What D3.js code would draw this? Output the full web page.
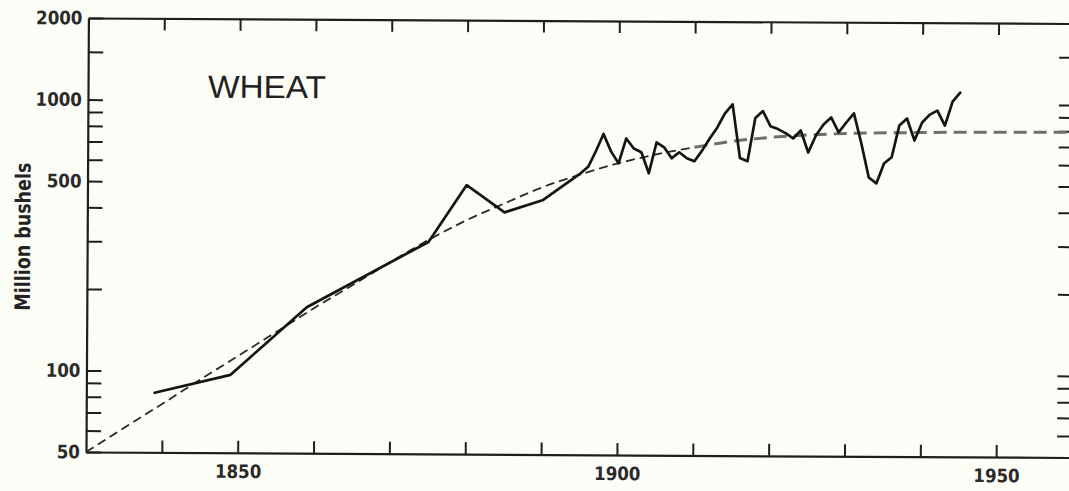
<!DOCTYPE html>
<html>
<head>
<meta charset="utf-8">
<script src="https://cdn.jsdelivr.net/npm/d3@7"></script>
<style>
  html, body { margin: 0; padding: 0; background: #fdfdf8; }
  svg { display: block; }
</style>
</head>
<body>
<div id="chart"></div>
<script>
// wheat production, million bushels
const wheatYears = [1839, 1849, 1859, 1875, 1880, 1885, 1890, 1895, 1896, 1897, 1898, 1899,
    1900, 1901, 1902, 1903, 1904, 1905, 1906, 1907, 1908, 1909,
    1910, 1911, 1912, 1913, 1914, 1915, 1916, 1917, 1918, 1919,
    1920, 1921, 1922, 1923, 1924, 1925, 1926, 1927, 1928, 1929,
    1930, 1931, 1932, 1933, 1934, 1935, 1936, 1937, 1938, 1939,
    1940, 1941, 1942, 1943, 1944, 1945];
const wheatValues = [83, 97, 173, 303, 492, 391, 434, 547, 578, 660, 765, 660,
    596, 737, 677, 656, 549, 714, 685, 624, 657, 625,
    609, 667, 740, 813, 916, 990, 627, 611, 882, 936,
    824, 804, 777, 743, 795, 660, 763, 838, 890, 784,
    853, 922, 714, 535, 509, 603, 636, 834, 885, 734,
    856, 916, 948, 835, 1024, 1106];

// dashed trend curve
const trendYears = [1830, 1835, 1840, 1845, 1850, 1855, 1860, 1865, 1870, 1875, 1880, 1885,
    1890, 1895, 1900, 1905, 1910, 1915, 1920, 1925, 1930, 1940, 1960];
const trendValues = [50, 61.5, 75.5, 93, 114, 140, 172, 209, 255, 308, 365, 422,
    485, 542, 597, 645, 686, 723, 749, 766, 777, 786, 794];

const xTicks = [1840, 1850, 1860, 1870, 1880, 1890, 1900, 1910, 1920, 1930, 1940, 1950];
const xLabels = [1850, 1900, 1950];
const yTicks = [50, 60, 70, 80, 90, 100, 200, 300, 400, 500, 600, 700, 800, 900, 1000, 1500, 2000];
const yLabels = [50, 100, 500, 1000, 2000];

const width = 1069;
const height = 491;
const plotLeft = 86, plotRight = 1072, plotTop = 18, plotBottom = 452;

const svg = d3.select('#chart')
    .append('svg')
    .attr('width', width)
    .attr('height', height);

// the scanned original is tilted a little
const g = svg.append('g')
    .attr('transform', `rotate(0.32, ${plotLeft}, ${plotBottom})`);

const x = d3.scaleLinear().domain([1830, 1960]).range([plotLeft, plotRight]);
const y = d3.scaleLog().domain([50, 2000]).range([plotBottom, plotTop]);

const numFont = 'DejaVu Sans Condensed, DejaVu Sans, sans-serif';

// bottom axis
const xAxisBottom = g.append('g')
    .attr('transform', `translate(0,${plotBottom})`)
    .call(d3.axisBottom(x).tickValues(xTicks).tickSizeInner(-12).tickSizeOuter(0).tickPadding(12)
        .tickFormat(d => xLabels.includes(d) ? d : ''));

// top axis
const xAxisTop = g.append('g')
    .attr('transform', `translate(0,${plotTop})`)
    .call(d3.axisTop(x).tickValues(xTicks).tickSizeInner(-12).tickSizeOuter(0).tickFormat(''));

// left axis
const yAxisLeft = g.append('g')
    .attr('transform', `translate(${plotLeft},0)`)
    .call(d3.axisLeft(y).tickValues(yTicks).tickSizeInner(-15).tickSizeOuter(0).tickPadding(6)
        .tickFormat(d => yLabels.includes(d) ? d : ''));

// right axis
const yAxisRight = g.append('g')
    .attr('transform', `translate(${plotRight},0)`)
    .call(d3.axisRight(y).tickValues(yTicks).tickSizeInner(-15).tickSizeOuter(0).tickFormat(''));

[xAxisBottom, xAxisTop, yAxisLeft, yAxisRight].forEach(a => {
    a.select('.domain').attr('stroke', '#1e1e1e').attr('stroke-width', 2.2);
    a.selectAll('.tick line').attr('stroke', '#1e1e1e').attr('stroke-width', 2);
    a.selectAll('.tick text')
        .attr('fill', '#2a2a2a')
        .style('font-family', numFont)
        .style('font-weight', 'bold')
        .style('font-size', '18.5px');
});

// trend, drawn in two styles like the original
const trend = trendYears.map((yr, i) => ({ year: yr, value: trendValues[i] }));
const trendLine = d3.line()
    .x(d => x(d.year))
    .y(d => y(d.value))
    .curve(d3.curveMonotoneX);

g.append('path')
    .datum(trend.filter(d => d.year <= 1910))
    .attr('fill', 'none')
    .attr('stroke', '#2a2a2a')
    .attr('stroke-width', 1.8)
    .attr('stroke-dasharray', '9,5')
    .attr('d', trendLine);

g.append('path')
    .datum(trend.filter(d => d.year >= 1910))
    .attr('fill', 'none')
    .attr('stroke', '#6e6e6e')
    .attr('stroke-width', 3)
    .attr('stroke-dasharray', '13,7')
    .attr('d', trendLine);

// production line
const wheat = wheatYears.map((yr, i) => ({ year: yr, value: wheatValues[i] }));
g.append('path')
    .datum(wheat)
    .attr('fill', 'none')
    .attr('stroke', '#141414')
    .attr('stroke-width', 2.7)
    .attr('stroke-linejoin', 'round')
    .attr('stroke-linecap', 'round')
    .attr('d', d3.line().x(d => x(d.year)).y(d => y(d.value)));

// titles
g.append('text')
    .attr('x', 206)
    .attr('y', 97)
    .attr('fill', '#222')
    .style('font-family', 'Liberation Sans, Arial, sans-serif')
    .style('font-size', '32px')
    .attr('textLength', 118)
    .attr('lengthAdjust', 'spacingAndGlyphs')
    .text('WHEAT');

g.append('text')
    .attr('transform', 'translate(29,237) rotate(-90)')
    .attr('text-anchor', 'middle')
    .attr('fill', '#222')
    .style('font-family', 'Liberation Sans Narrow, DejaVu Sans Condensed, sans-serif')
    .style('font-weight', 'bold')
    .style('font-size', '21px')
    .attr('textLength', 148)
    .attr('lengthAdjust', 'spacingAndGlyphs')
    .text('Million bushels');
</script>
</body>
</html>
